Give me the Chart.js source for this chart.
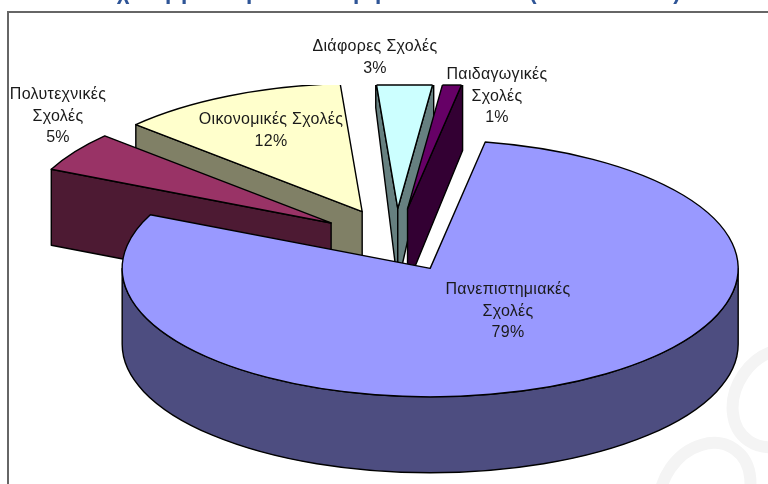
<!DOCTYPE html>
<html>
<head>
<meta charset="utf-8">
<script src="https://cdn.jsdelivr.net/npm/chart.js@4/dist/chart.umd.min.js"></script>
<style>
  html, body { margin: 0; padding: 0; background: #fff; overflow: hidden; }
  #wrap { position: relative; width: 768px; height: 484px; overflow: hidden; }
  #frame { position: absolute; left: 7px; top: 11px; width: 780px; height: 500px; border: 2px solid #666; }
  #myChart { position: absolute; left: 0; top: 0; }
</style>
</head>
<body>
<div id="wrap">
  <div id="frame"></div>
  <canvas id="myChart" width="768" height="484"></canvas>
</div>
<script>
// chart data
const categories = ["Πανεπιστημιακές Σχολές", "Πολυτεχνικές Σχολές", "Οικονομικές Σχολές", "Διάφορες Σχολές", "Παιδαγωγικές Σχολές"];
const shares = [79, 5, 12, 3, 1];
const topColors = ["#9999ff", "#993366", "#ffffcc", "#ccffff", "#660066"];
const wallColors = ["#4d4d80", "#4d1a33", "#808066", "#668080", "#330033"];

// the title above the frame is cut off, only the bottoms of these glyphs show
const titleGlyphs = ["χ", "ρ", "ρ", "ρ", "ρ", "ρ", "(", ")"];
const titleGlyphX = [123, 172, 188, 253, 360, 382, 533, 677];

// label lines per category, last line is the share
const labelLines = [
  ["Πανεπιστημιακές", "Σχολές"],
  ["Πολυτεχνικές", "Σχολές"],
  ["Οικονομικές Σχολές"],
  ["Διάφορες Σχολές"],
  ["Παιδαγωγικές", "Σχολές"],
];
const labelCenterX = [508, 58, 271, 375, 497];
const labelTopY = [290, 95, 120, 47, 75];

// 3d look
const drawRadius = 308;
const tilt = 0.417;
const depth = 76;
const explode = [74, 78, 78, 78, 78];
const clipTop = 85;

function arcPoint(cx, cy, angle) {
  return [cx + Math.cos(angle) * drawRadius, cy + Math.sin(angle) * drawRadius * tilt];
}

// one cut face of a wedge, nearly end-on faces get a shorter drop at the rim
function drawCutFace(ctx, cx, cy, angle, normalY, color) {
  if (normalY <= 0) return;
  const [rx, ry] = arcPoint(cx, cy, angle);
  const rimDrop = depth * Math.min(1, normalY / 0.2);
  ctx.beginPath();
  ctx.moveTo(cx, cy);
  ctx.lineTo(rx, ry);
  ctx.lineTo(rx, ry + rimDrop);
  ctx.lineTo(cx, cy + depth);
  ctx.closePath();
  ctx.fillStyle = color;
  ctx.fill();
  ctx.stroke();
}

const pie3d = {
  id: "pie3d",
  beforeDatasetsDraw(chart) {
    const ctx = chart.ctx;
    const arcs = chart.getDatasetMeta(0).data;

    // each wedge moved out along its middle angle
    const slices = arcs.map((arc, i) => {
      const mid = (arc.startAngle + arc.endAngle) / 2;
      return {
        arc: arc,
        index: i,
        cx: arc.x + Math.cos(mid) * explode[i],
        cy: arc.y + Math.sin(mid) * explode[i] * tilt,
      };
    });

    // back to front
    slices.sort((a, b) => a.cy - b.cy);

    slices.forEach((s) => {
      const { arc, cx, cy, index } = s;
      const scale = drawRadius / arc.outerRadius;
      const start = arc.startAngle;
      const end = arc.endAngle;

      ctx.save();
      ctx.lineWidth = 1.4;
      ctx.strokeStyle = "#000";
      ctx.lineJoin = "round";

      // wedges reaching above the plot box get a flat top like the original
      ctx.save();
      ctx.beginPath();
      ctx.rect(0, clipTop, chart.width, chart.height - clipTop);
      ctx.clip();

      drawCutFace(ctx, cx, cy, start, -Math.cos(start), wallColors[index]);
      drawCutFace(ctx, cx, cy, end, Math.cos(end), wallColors[index]);

      // outer wall, only the part that faces the viewer
      const a0 = Math.max(start, 0);
      const a1 = Math.min(end, Math.PI);
      if (a1 > a0) {
        ctx.beginPath();
        ctx.ellipse(cx, cy, drawRadius, drawRadius * tilt, 0, a0, a1);
        ctx.ellipse(cx, cy + depth, drawRadius, drawRadius * tilt, 0, a1, a0, true);
        ctx.closePath();
        ctx.fillStyle = wallColors[index];
        ctx.fill();
        ctx.stroke();
      }

      // top face, the library draws it inside a squashed transform
      ctx.save();
      ctx.translate(cx, cy);
      ctx.scale(scale, scale * tilt);
      ctx.translate(-arc.x, -arc.y);
      arc.draw(ctx);
      ctx.beginPath();
      ctx.moveTo(arc.x, arc.y);
      ctx.arc(arc.x, arc.y, arc.outerRadius, start, end);
      ctx.closePath();
      ctx.restore();
      ctx.stroke();
      ctx.restore();

      // the flat top edge
      const left = arcPoint(cx, cy, start);
      const right = arcPoint(cx, cy, end);
      if (left[1] < clipTop && right[1] < clipTop) {
        const t0 = (clipTop - cy) / (left[1] - cy);
        const t1 = (clipTop - cy) / (right[1] - cy);
        ctx.beginPath();
        ctx.moveTo(cx + (left[0] - cx) * t0, clipTop);
        ctx.lineTo(cx + (right[0] - cx) * t1, clipTop);
        ctx.stroke();
      }

      ctx.restore();
    });
    return false;
  },
  afterDraw(chart) {
    const ctx = chart.ctx;
    ctx.save();
    ctx.textAlign = "center";
    ctx.textBaseline = "middle";
    ctx.fillStyle = "#1a1a1a";
    ctx.font = "16px 'Liberation Sans'";
    ctx.letterSpacing = "0.3px";
    categories.forEach((name, i) => {
      const lines = labelLines[i].concat(shares[i] + "%");
      lines.forEach((line, j) => {
        ctx.fillText(line, labelCenterX[i], labelTopY[i] + j * 21.5);
      });
    });

    ctx.letterSpacing = "0px";
    ctx.textBaseline = "alphabetic";
    ctx.fillStyle = "#2f5597";
    ctx.font = "bold 22px 'Liberation Sans'";
    titleGlyphs.forEach((glyph, i) => {
      ctx.fillText(glyph, titleGlyphX[i], -1);
    });
    ctx.restore();
  },
  beforeDraw(chart) {
    // faint watermark rings in the corner
    const ctx = chart.ctx;
    ctx.save();
    ctx.strokeStyle = "#f4f4f4";
    ctx.lineWidth = 12;
    ctx.beginPath();
    ctx.ellipse(705, 492, 42, 52, 0.6, 0, Math.PI * 2);
    ctx.stroke();
    ctx.beginPath();
    ctx.ellipse(778, 398, 42, 52, 0.6, 0, Math.PI * 2);
    ctx.stroke();
    ctx.restore();
  },
};

const ctx = document.getElementById("myChart").getContext("2d");
const myChart = new Chart(ctx, {
  type: "pie",
  data: {
    labels: categories,
    datasets: [
      {
        data: shares,
        backgroundColor: topColors,
        borderWidth: 0,
      },
    ],
  },
  options: {
    responsive: false,
    animation: false,
    rotation: 10.3,
    layout: { padding: { left: 24, top: 0, right: 0, bottom: 2 } },
    plugins: {
      legend: { display: false },
      title: { display: false },
      tooltip: { enabled: false },
    },
  },
  plugins: [pie3d],
});
</script>
</body>
</html>
